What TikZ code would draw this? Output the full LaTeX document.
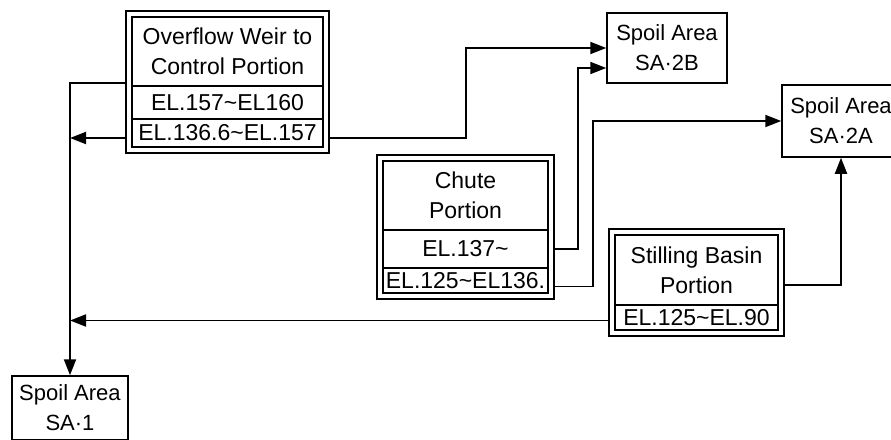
\documentclass[tikz,border=0pt]{standalone}
\usepackage{fontspec}
\setmainfont{Liberation Sans}
\usetikzlibrary{arrows.meta,fit}
\newcommand{\tl}{\textasciitilde}
\begin{document}
\begin{tikzpicture}[x=1pt,y=-1pt,
  txt/.style={font=\fontsize{23}{30}\selectfont},
  cell/.style={draw,line width=1.5pt,inner sep=0pt,align=center,txt},
  frame/.style={draw,line width=1.9pt,inner sep=5pt},
  area/.style={draw,line width=1.5pt,inner sep=0pt,align=center,font=\fontsize{22}{30}\selectfont},
  conn/.style={line width=1.9pt},
  arr/.style={conn,-{Triangle[length=16pt,width=12pt]}}
]
\useasboundingbox (0,0) rectangle (891,439);
% Overflow weir
\node[cell,minimum width=191pt,minimum height=69pt] (ow1) at (227.5,51.5) {Overflow Weir to\\Control Portion};
\node[cell,minimum width=191pt,minimum height=33pt] (ow2) at (227.5,102.5) {EL.157\tl EL160};
\node[cell,minimum width=191pt,minimum height=28pt] (ow3) at (227.5,133) {EL.136.6\tl EL.157};
\node[frame,fit=(ow1)(ow3)] (ow) {};
% Chute
\node[cell,minimum width=165pt,minimum height=69pt] (ch1) at (465.5,195.5) {Chute\\Portion};
\node[cell,minimum width=165pt,minimum height=38pt] (ch2) at (465.5,249) {EL.137\tl};
\node[cell,minimum width=165pt,minimum height=25pt] (ch3) at (465.5,280.5) {EL.125\tl EL136.};
\node[frame,fit=(ch1)(ch3)] (ch) {};
% Stilling basin
\node[cell,minimum width=163pt,minimum height=70pt] (st1) at (696.5,270) {Stilling Basin\\Portion};
\node[cell,minimum width=163pt,minimum height=25pt] (st2) at (696.5,317.5) {EL.125\tl EL.90};
\node[frame,fit=(st1)(st2)] (st) {};
% Spoil areas
\node[area,minimum width=116pt,minimum height=64pt] (sa1) at (70,408) {Spoil Area\\SA·1};
\node[area,minimum width=120pt,minimum height=70pt] (sa2b) at (667,48) {Spoil Area\\SA·2B};
\node[area,minimum width=118pt,minimum height=72pt] (sa2a) at (841,121) {Spoil Area\\SA·2A};
% junctions
\coordinate (j1) at (466,0);
\coordinate (j2) at (578,0);
\coordinate (j3) at (593,0);
% connectors
\draw[arr] ([yshift=2pt]ow2.north -| ow.west) -| (sa1.north);
\draw[arr] ([yshift=-5pt]ow3.center -| ow.west) -- ([yshift=-5pt]ow3.center -| sa1.north);
\draw[arr] ([yshift=-5pt]ow3.center -| ow.east) -- ([yshift=-5pt]ow3.center -| j1) |- (sa2b.west);
\draw[arr] (ch2.center -| ch.east) -- (ch2.center -| j2) |- ([yshift=-20pt]sa2b.west);
\draw[arr] ([yshift=-6pt]ch3.center -| ch.east) -- ([yshift=-6pt]ch3.center -| j3) |- (sa2a.west);
\draw[arr] ([yshift=-15pt]st1.center -| st.east) -| (sa2a.south);
\draw[arr] ([yshift=-3pt]st2.center -| st.west) -- ([yshift=-3pt]st2.center -| sa1.north);
\end{tikzpicture}
\end{document}
